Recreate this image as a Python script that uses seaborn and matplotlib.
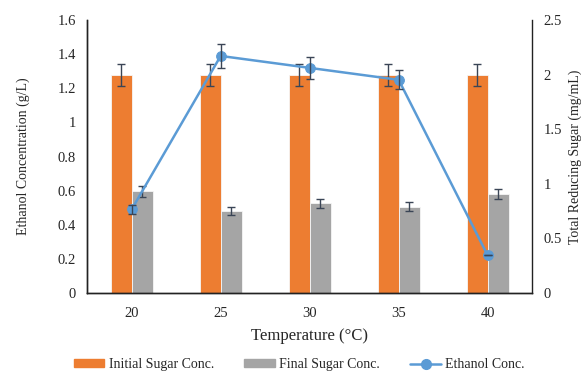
import matplotlib
matplotlib.use("Agg")
import matplotlib.pyplot as plt
import numpy as np
import pandas as pd
import seaborn as sns

# data
temperatures = ["20", "25", "30", "35", "40"]
initial_sugar = [2.0, 2.0, 2.0, 2.0, 2.0]          # mg/mL (right axis)
initial_sugar_err = [0.1, 0.1, 0.1, 0.1, 0.1]
final_sugar = [0.93, 0.75, 0.82, 0.79, 0.91]        # mg/mL (right axis)
final_sugar_err = [0.05, 0.04, 0.04, 0.04, 0.045]
ethanol = [0.49, 1.39, 1.32, 1.25, 0.22]            # g/L (left axis)
ethanol_err = [0.025, 0.07, 0.065, 0.055, 0.0]

ORANGE = "#ED7D31"
GREY = "#A5A5A5"
BLUE = "#5B9BD5"
ERR = "#3A4556"

sns.set_style("white")
plt.rcParams["font.family"] = ["Liberation Serif", "DejaVu Serif"]

bars = pd.DataFrame(
    {
        "temperature": temperatures * 2,
        "value": initial_sugar + final_sugar,
        "series": ["Initial Sugar Conc."] * 5 + ["Final Sugar Conc."] * 5,
    }
)

fig, ax = plt.subplots(figsize=(5.81, 3.80), dpi=100)
fig.subplots_adjust(left=0.150, right=0.916, top=0.947, bottom=0.229)
ax2 = ax.twinx()

sns.barplot(
    data=bars, x="temperature", y="value", hue="series",
    palette=[ORANGE, GREY], saturation=1, width=0.47, errorbar=None,
    edgecolor="#F6F6F6", linewidth=0.6, ax=ax2, legend=False,
)

# error bars on the sugar bars
x = np.arange(len(temperatures))
off = 0.47 / 4
ax2.errorbar(x - off, initial_sugar, yerr=initial_sugar_err, fmt="none",
             ecolor=ERR, elinewidth=1, capsize=3, capthick=1)
ax2.errorbar(x + off, final_sugar, yerr=final_sugar_err, fmt="none",
             ecolor=ERR, elinewidth=1, capsize=3, capthick=1)

# ethanol line drawn on the left axis, above the bars
ax.set_zorder(ax2.get_zorder() + 1)
ax.patch.set_visible(False)
eth = pd.DataFrame({"x": x, "ethanol": ethanol})
sns.lineplot(data=eth, x="x", y="ethanol", color=BLUE, linewidth=1.8,
             marker="o", markersize=7, markeredgecolor=BLUE, ax=ax)
ax.errorbar(x, ethanol, yerr=ethanol_err, fmt="none",
            ecolor=ERR, elinewidth=1, capsize=3, capthick=1)

ax.set_xlim(-0.5, 4.5)
ax.set_ylim(0, 1.6)
ax.set_yticks(np.arange(0, 1.61, 0.2))
ax.set_yticklabels(["0", "0.2", "0.4", "0.6", "0.8", "1", "1.2", "1.4", "1.6"])
ax.set_xticks(x)
ax.set_xticklabels(temperatures)
ax2.set_ylim(0, 2.5)
ax2.set_yticks([0, 0.5, 1, 1.5, 2, 2.5])
ax2.set_yticklabels(["0", "0.5", "1", "1.5", "2", "2.5"])

ax.set_xlabel("Temperature (°C)", fontsize=12, labelpad=6)
ax.set_ylabel("Ethanol Concentration (g/L)", fontsize=10, labelpad=20)
ax2.set_ylabel("Total Reducing Sugar (mg/mL)", fontsize=10, labelpad=5)
ax2.set_xlabel("")

for a in (ax, ax2):
    a.tick_params(axis="y", length=0, labelsize=10.5, pad=8)
    a.tick_params(axis="x", length=0, labelsize=10.5, pad=10)
    a.spines["top"].set_visible(False)
    for s in ("left", "right", "bottom"):
        a.spines[s].set_color("#222222")
        a.spines[s].set_linewidth(1.0)
ax.spines["right"].set_visible(False)

handles = [
    plt.Rectangle((0, 0), 1, 1, color=ORANGE),
    plt.Rectangle((0, 0), 1, 1, color=GREY),
    plt.Line2D([], [], color=BLUE, linewidth=1.8, marker="o", markersize=7),
]
fig.legend(handles, ["Initial Sugar Conc.", "Final Sugar Conc.", "Ethanol Conc."],
           loc="lower center", bbox_to_anchor=(0.515, -0.01), ncol=3, frameon=False,
           fontsize=10, handlelength=2.2, handleheight=0.5, handletextpad=0.3,
           columnspacing=2.2)

fig.savefig("out.png", dpi=100)
